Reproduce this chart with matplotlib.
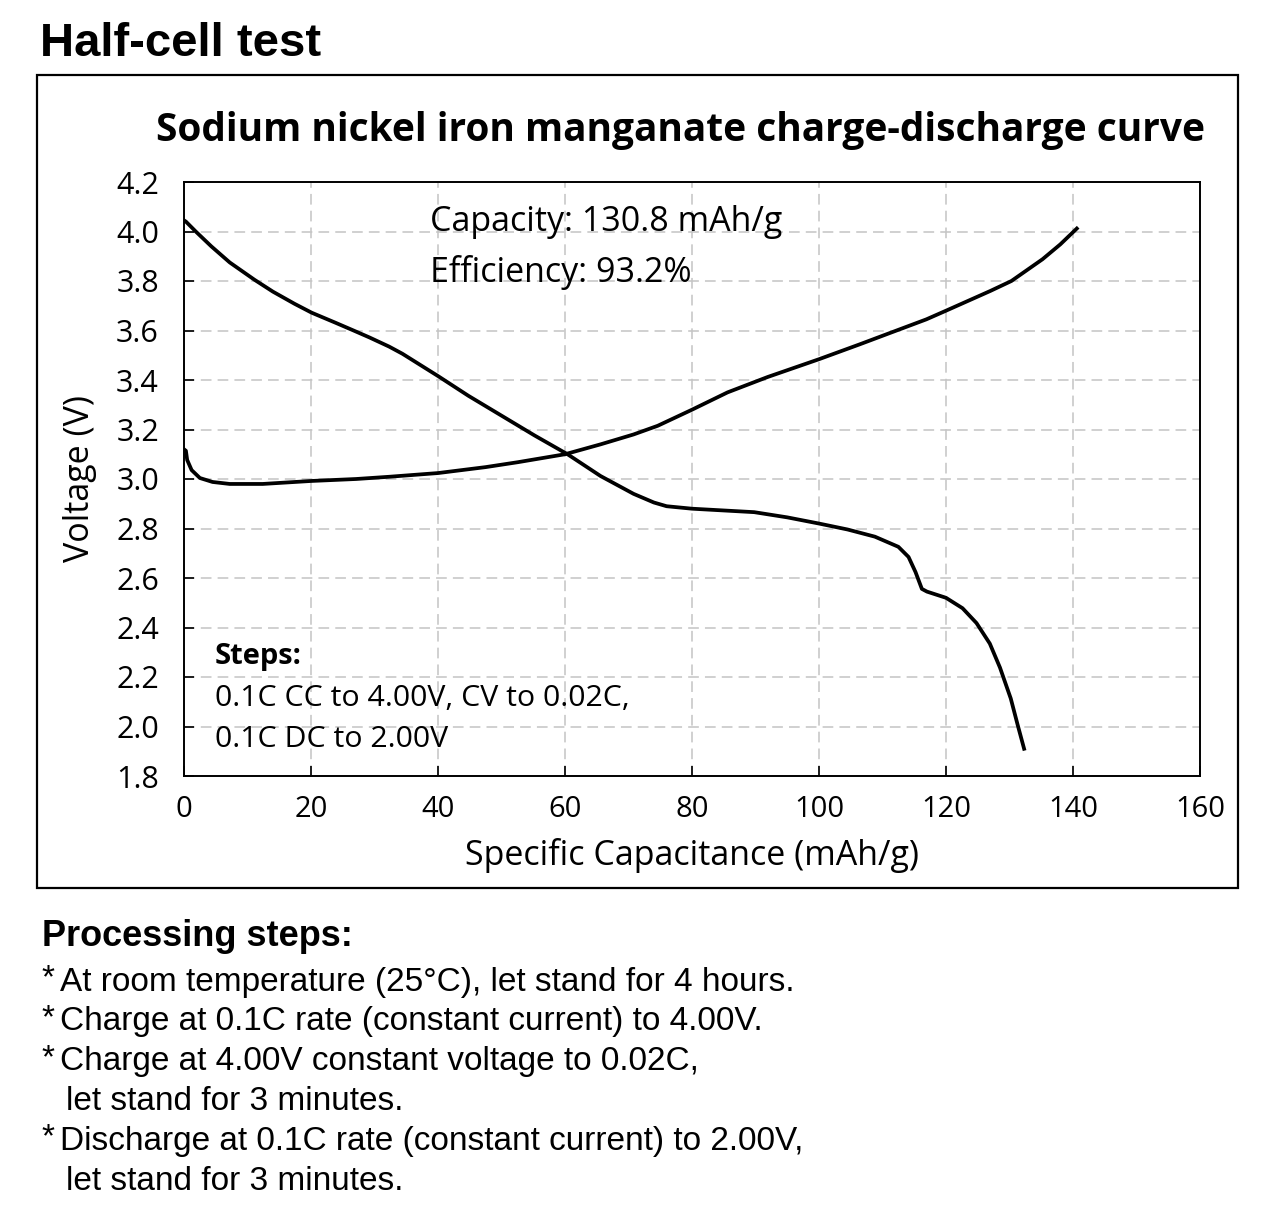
import matplotlib
matplotlib.use("Agg")
import matplotlib.pyplot as plt
from matplotlib.patches import Rectangle

# charge curve (mAh/g, V)
charge_cap = [0, 0.3, 0.5, 1.2, 2.5, 4.5, 7.2, 12.4, 20, 27.1, 32.3, 40, 47.5, 52.6, 60,
              65.6, 70.8, 74.6, 80, 85.6, 91.9, 100, 106.4, 111.8, 116.9, 120, 127.0,
              130.3, 135.2, 138.0, 140.6]
charge_v = [3.12, 3.114, 3.077, 3.036, 3.004, 2.988, 2.98, 2.98, 2.992, 3.0, 3.009, 3.024,
            3.048, 3.068, 3.10, 3.14, 3.18, 3.215, 3.28, 3.35, 3.412, 3.484, 3.544, 3.596,
            3.645, 3.68, 3.76, 3.80, 3.888, 3.948, 4.012]

# discharge curve
discharge_cap = [0, 0.3, 1.85, 4.3, 7.2, 11.1, 14.0, 17.4, 20.1, 23.8, 26.7, 29.2, 32.3,
                 34.4, 40, 44.8, 50, 55.2, 60.4, 65.6, 70.8, 74, 76, 80, 89.8, 95, 100,
                 104.5, 108.8, 112.5, 114.1, 115.2, 116.2, 117, 120, 122.6, 124.8, 126.9,
                 128.5, 130.2, 131.3, 132.3]
discharge_v = [4.045, 4.04, 4.0, 3.94, 3.875, 3.805, 3.757, 3.708, 3.672, 3.632, 3.60, 3.572,
               3.535, 3.506, 3.416, 3.336, 3.256, 3.176, 3.10, 3.012, 2.94, 2.905, 2.89,
               2.88, 2.866, 2.845, 2.82, 2.796, 2.767, 2.726, 2.685, 2.624, 2.556, 2.545,
               2.52, 2.478, 2.418, 2.335, 2.238, 2.113, 2.005, 1.91]

x_ticks = [0, 20, 40, 60, 80, 100, 120, 140, 160]
y_ticks = [1.8, 2.0, 2.2, 2.4, 2.6, 2.8, 3.0, 3.2, 3.4, 3.6, 3.8, 4.0, 4.2]

info_lines = ["Capacity: 130.8 mAh/g", "Efficiency: 93.2%"]
step_lines = ["0.1C CC to 4.00V, CV to 0.02C,", "0.1C DC to 2.00V"]
proc_lines = [("*", "At room temperature (25°C), let stand for 4 hours."),
              ("*", "Charge at 0.1C rate (constant current) to 4.00V."),
              ("*", "Charge at 4.00V constant voltage to 0.02C,"),
              ("", "let stand for 3 minutes."),
              ("*", "Discharge at 0.1C rate (constant current) to 2.00V,"),
              ("", "let stand for 3 minutes.")]

W, H = 1277, 1231
fig = plt.figure(figsize=(W / 100, H / 100), dpi=100)
sans = ["Open Sans", "DejaVu Sans"]
arial = ["Liberation Sans", "DejaVu Sans"]


def fx(px):
    return px / W


def fy(py):
    return 1 - py / H


# outer frame
fig.patches.append(Rectangle((fx(37), fy(888)), fx(1238) - fx(37), fy(75) - fy(888),
                             transform=fig.transFigure, fill=False, lw=1.6, color="black"))

ax = fig.add_axes([fx(184), fy(776), fx(1200) - fx(184), fy(182) - fy(776)])
ax.plot(charge_cap, charge_v, color="black", lw=2.7, solid_joinstyle="round")
ax.plot(discharge_cap, discharge_v, color="black", lw=2.7, solid_joinstyle="round")

ax.set_xlim(0, 160)
ax.set_ylim(1.8, 4.2)
ax.set_xticks(x_ticks)
ax.set_yticks(y_ticks)
ax.set_yticklabels(["%.1f" % v for v in y_ticks])
ax.grid(True, color="#c4c4c4", ls=(0, (7, 4)), lw=1.1)
ax.set_axisbelow(True)
for s in ax.spines.values():
    s.set_linewidth(1.4)
ax.tick_params(direction="in", length=7, width=1.2)
ax.tick_params(axis="x", pad=14, labelsize=21)
ax.tick_params(axis="y", pad=18, labelsize=22)
for lab in ax.get_xticklabels() + ax.get_yticklabels():
    lab.set_family(sans)
ax.set_xlabel("Specific Capacitance (mAh/g)", fontsize=24.5, family=sans, labelpad=10)
ax.set_ylabel("Voltage (V)", fontsize=24.5, family=sans, labelpad=14)

ax.text(0.242, 0.933, info_lines[0], transform=ax.transAxes, fontsize=24.5, family=sans,
        va="center", ha="left")
ax.text(0.242, 0.848, info_lines[1], transform=ax.transAxes, fontsize=24.5, family=sans,
        va="center", ha="left")
ax.text(0.0305, 0.202, "Steps:", transform=ax.transAxes, fontsize=21, family=sans,
        fontweight="bold", va="center", ha="left")
ax.text(0.0305, 0.131, step_lines[0], transform=ax.transAxes, fontsize=21.8, family=sans,
        va="center", ha="left")
ax.text(0.0305, 0.061, step_lines[1], transform=ax.transAxes, fontsize=21.8, family=sans,
        va="center", ha="left")

fig.text(fx(681), fy(130), "Sodium nickel iron manganate charge-discharge curve",
         fontsize=28, family=sans, fontweight="bold", ha="center", va="center")
fig.text(fx(40), fy(44), "Half-cell test", fontsize=34, family=arial, fontweight="bold",
         ha="left", va="center")
fig.text(fx(42), fy(937), "Processing steps:", fontsize=26, family=arial, fontweight="bold",
         ha="left", va="center")

y0 = 982
for i, (star, line) in enumerate(proc_lines):
    yy = y0 + i * 39.8
    if star:
        fig.text(fx(41), fy(yy - 3), star, fontsize=24, family=arial, ha="left", va="center")
        fig.text(fx(60), fy(yy), line, fontsize=24, family=arial, ha="left", va="center")
    else:
        fig.text(fx(66), fy(yy), line, fontsize=24, family=arial, ha="left", va="center")

fig.savefig("out.png", dpi=100, facecolor="white")
